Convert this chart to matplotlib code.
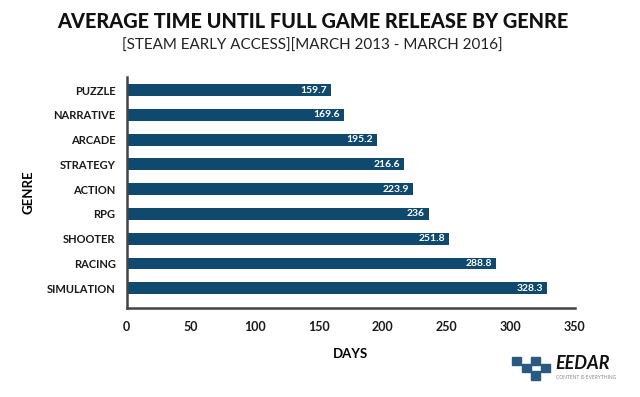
import matplotlib.pyplot as plt
import matplotlib.patches as mpatches

genres = ["PUZZLE", "NARRATIVE", "ARCADE", "STRATEGY", "ACTION", "RPG", "SHOOTER", "RACING", "SIMULATION"]
days = [159.7, 169.6, 195.2, 216.6, 223.9, 236, 251.8, 288.8, 328.3]
value_labels = ["159.7", "169.6", "195.2", "216.6", "223.9", "236", "251.8", "288.8", "328.3"]
xticks = [0, 50, 100, 150, 200, 250, 300, 350]

bar_color = "#0f4a6e"
plt.rcParams["font.family"] = ["Lato", "DejaVu Sans"]

fig = plt.figure(figsize=(6.4, 3.97), dpi=100)
ax = fig.add_axes([0.198, 0.224, 0.7, 0.582])

pos = list(range(len(genres)))
ax.barh(pos, days, height=0.48, color=bar_color)
for p, d, lab in zip(pos, days, value_labels):
    ax.text(d - 3, p, lab, color="white", fontsize=7.5, fontweight="bold",
            ha="right", va="center")

ax.set_xlim(0, 350)
ax.set_ylim(8.8, -0.53)
ax.set_yticks(pos)
ax.set_yticklabels(genres, fontsize=8, fontweight="bold", color="#1a1a1a")
ax.set_xticks(xticks)
ax.set_xticklabels([str(t) for t in xticks], fontsize=9, fontweight="bold", color="#1a1a1a")
ax.tick_params(length=0, pad=9)
ax.tick_params(axis="y", pad=8)
for s in ["top", "right"]:
    ax.spines[s].set_visible(False)
for s in ["left", "bottom"]:
    ax.spines[s].set_color("#444444")
    ax.spines[s].set_linewidth(1.8)

ax.set_xlabel("DAYS", fontsize=9.5, fontweight="bold", labelpad=11)
ax.set_ylabel("GENRE", fontsize=9.5, fontweight="bold", labelpad=9)

fig.text(0.488, 0.945, "AVERAGE TIME UNTIL FULL GAME RELEASE BY GENRE",
         ha="center", va="center", fontsize=14.3, fontweight="black", color="#111111")
fig.text(0.488, 0.884, "[STEAM EARLY ACCESS][MARCH 2013 - MARCH 2016]",
         ha="center", va="center", fontsize=10.9, fontweight="normal", color="#222222")

# EEDAR logo
for (x, y) in [(0.815, 0.062), (0.830, 0.08), (0.83, 0.044), (0.845, 0.062), (0.800, 0.080)]:
    fig.patches.append(mpatches.Rectangle((x, y), 0.014, 0.022, transform=fig.transFigure,
                                          color="#2a5a80", zorder=5))
fig.text(0.868, 0.085, "EEDAR", fontsize=13, fontweight="bold", style="italic",
         color="#111111", va="center")
fig.text(0.868, 0.05, "CONTENT IS EVERYTHING", fontsize=3.5, color="#888888", va="center")

fig.savefig("out.png", dpi=100, facecolor="white")
